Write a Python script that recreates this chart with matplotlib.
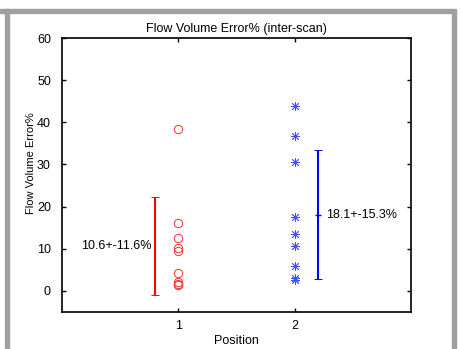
import matplotlib
matplotlib.use("Agg")
import numpy as np
import matplotlib.pyplot as plt
from matplotlib.patches import Rectangle

# --- Dados ---------------------------------------
pos1_vals = [38.4, 16.0, 12.6, 10.3, 9.5, 4.3, 2.1, 1.6, 1.35]
pos2_vals = [43.8, 36.7, 30.5, 17.6, 13.4, 10.7, 5.8, 3.1, 2.5]

mean1, sd1 = 10.6, 11.6
mean2, sd2 = 18.1, 15.3

xticks = [1, 2]
yticks = [0, 10, 20, 30, 40, 50, 60]

plt.rcParams["font.family"] = ["Liberation Sans", "DejaVu Sans"]
plt.rcParams["font.size"] = 9

fig = plt.figure(figsize=(4.61, 3.49), dpi=100)
ax = fig.add_axes([0.1345, 0.106, 0.757, 0.785])

# moldura cinza
fig.patches.append(Rectangle((0, 1 - 13 / 349), 452 / 461, 4 / 349,
                             transform=fig.transFigure, color="#a0a0a0", zorder=0))
fig.patches.append(Rectangle((4.7 / 461, 0), 4.6 / 461, 1 - 9 / 349,
                             transform=fig.transFigure, color="#a0a0a0", zorder=0))
fig.patches.append(Rectangle((452 / 461, 0), 4 / 461, 1 - 9 / 349,
                             transform=fig.transFigure, color="#a0a0a0", zorder=0))

ax.plot(np.full(len(pos1_vals), 1), pos1_vals, linestyle="none", marker="o",
        markersize=6, markerfacecolor="none", markeredgecolor="#ff3030",
        markeredgewidth=0.7)
ax.plot(np.full(len(pos2_vals), 2), pos2_vals, linestyle="none", marker=(8, 2, 0),
        markersize=6.5, color="#4050ff", markeredgewidth=0.6)

ax.errorbar(0.8, mean1, yerr=sd1, color="#ff0000", linewidth=1.5,
            capsize=3, capthick=0.7)
ax.errorbar(2.2, mean2, yerr=sd2, color="#0000ff", linewidth=1.5,
            capsize=3, capthick=0.7, marker="_", markersize=5)

ax.text(0.77, mean1, f"{mean1}+-{sd1}%", ha="right", va="center")
ax.text(2.27, mean2, f"{mean2}+-{sd2}%", ha="left", va="center")

ax.set_xlim(0, 3)
ax.set_ylim(-5, 60)
ax.set_xticks(xticks)
ax.set_yticks(yticks)
ax.tick_params(direction="in", top=True, right=True, length=3, width=1)
ax.tick_params(axis="y", pad=8)
ax.tick_params(axis="x", pad=6)
for s in ax.spines.values():
    s.set_linewidth(1.2)

ax.set_xlabel("Position", labelpad=2)
ax.set_ylabel("Flow Volume Error%", fontsize=8)
ax.yaxis.set_label_coords(-0.075, 0.544)
ax.set_title("Flow Volume Error% (inter-scan)", fontsize=9, pad=4)

fig.savefig("out.png", dpi=100)
